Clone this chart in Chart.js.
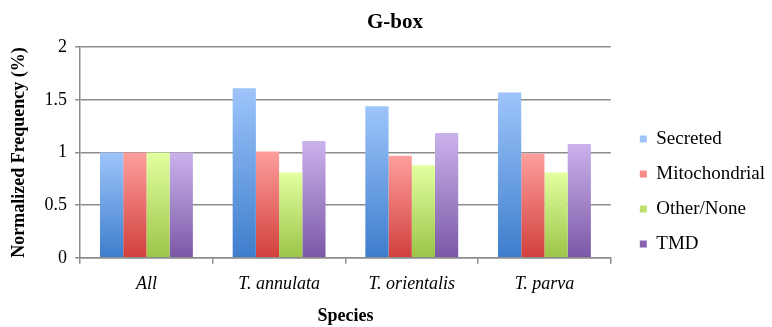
<!DOCTYPE html>
<html>
<head>
<meta charset="utf-8">
<script src="https://cdn.jsdelivr.net/npm/chart.js@4.4.1/dist/chart.umd.min.js"></script>
<style>
  html, body { margin: 0; padding: 0; background: #fff; }
  #wrap { width: 772px; height: 327px; }
</style>
</head>
<body>
<div id="wrap"><canvas id="chart" width="772" height="327"></canvas></div>
<script>
const species = ['All', 'T. annulata', 'T. orientalis', 'T. parva'];
const secreted = [1.00, 1.61, 1.44, 1.57];
const mitochondrial = [1.00, 1.01, 0.97, 0.99];
const otherNone = [1.00, 0.81, 0.88, 0.81];
const tmd = [1.00, 1.11, 1.185, 1.08];
const yTicks = [0, 0.5, 1, 1.5, 2];

// [top, bottom, legend] colours for the excel-style gradient
const shades = {
  Secreted: ['#9ec5fb', '#3d7dcc', '#4a86d6'],
  Mitochondrial: ['#fd9f9c', '#d13f3c', '#dc5451'],
  'Other/None': ['#e3ffa0', '#9bc548', '#a6cf55'],
  TMD: ['#cbb2ec', '#7b58a6', '#8a69b5']
};

function gradientFill(name) {
  const [top, bottom, solid] = shades[name];
  return (ctx) => {
    if (ctx.type !== 'data') return solid;
    const chart = ctx.chart;
    const y = chart.scales.y;
    if (!y || !chart.chartArea) return solid;
    const y0 = y.getPixelForValue(ctx.parsed.y);
    const y1 = y.getPixelForValue(0);
    if (!isFinite(y0) || !isFinite(y1) || y0 === y1) return solid;
    const g = chart.ctx.createLinearGradient(0, y0, 0, y1);
    g.addColorStop(0, top);
    g.addColorStop(1, bottom);
    return g;
  };
}

const series = [
  ['Secreted', secreted],
  ['Mitochondrial', mitochondrial],
  ['Other/None', otherNone],
  ['TMD', tmd]
];

const serif = "'Liberation Serif', 'Times New Roman', serif";
const legendWiden = 10;
const legendShift = 13;

// nudge title right and leave a wider gap before the legend
const layoutTweaks = {
  id: 'layoutTweaks',
  beforeLayout(chart) {
    const lg = chart.legend;
    if (lg && !lg._widened) {
      const fit = lg.fit;
      lg.fit = function () { fit.call(this); this.width += legendWiden; };
      lg._widened = true;
    }
  },
  afterLayout(chart) {
    if (chart.titleBlock) chart.titleBlock.left = 18;
    if (chart.legend) chart.legend.left += legendShift;
  }
};

new Chart(document.getElementById('chart'), {
  type: 'bar',
  data: {
    labels: species,
    datasets: series.map(([name, vals]) => ({
      label: name,
      data: vals,
      backgroundColor: gradientFill(name),
      borderWidth: 0,
      barPercentage: 1.0,
      categoryPercentage: 0.70
    }))
  },
  options: {
    responsive: false,
    animation: false,
    layout: { padding: { left: 9, right: 0, top: 4, bottom: 0 } },
    plugins: {
      title: {
        display: true, text: 'G-box', color: '#000',
        font: { family: serif, size: 21, weight: 'bold' },
        padding: { top: 6, bottom: 12 }
      },
      legend: {
        position: 'right', align: 'start',
        title: { display: true, text: '', padding: { top: 95, bottom: 0 } },
        labels: {
          color: '#000', boxWidth: 7, boxHeight: 7, padding: 16,
          font: { family: serif, size: 19 }
        }
      },
      tooltip: { enabled: false }
    },
    scales: {
      x: {
        grid: { display: true, drawOnChartArea: false, offset: true, color: '#8c8c8c', lineWidth: 1.5, tickLength: 6 },
        border: { color: '#8c8c8c', width: 1.5 },
        ticks: { color: '#000', font: { family: serif, size: 18, style: 'italic' }, padding: 10 },
        title: { display: true, text: 'Species', color: '#000', font: { family: serif, size: 18, weight: 'bold' }, padding: { top: 0, bottom: 0 } }
      },
      y: {
        min: 0, max: 2,
        afterBuildTicks(scale) { scale.ticks = yTicks.map(v => ({ value: v })); },
        grid: { color: '#8c8c8c', lineWidth: 1.5, drawTicks: true, tickLength: 5 },
        border: { color: '#8c8c8c', width: 1.5 },
        ticks: { color: '#000', font: { family: serif, size: 18 }, padding: 8, callback: v => String(v) },
        title: { display: true, text: 'Normalized Frequency (%)', color: '#000', font: { family: serif, size: 18, weight: 'bold' }, padding: { top: 0, bottom: 6 } }
      }
    }
  },
  plugins: [layoutTweaks]
});
</script>
</body>
</html>
